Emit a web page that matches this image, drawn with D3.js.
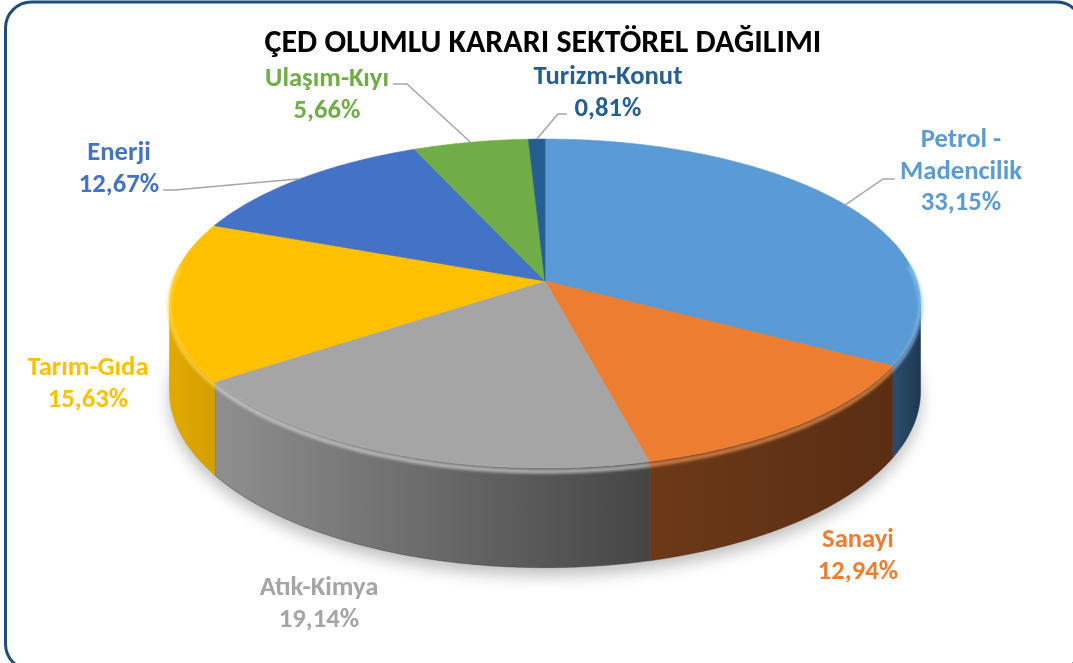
<!DOCTYPE html>
<html>
<head>
<meta charset="utf-8">
<script src="https://cdn.jsdelivr.net/npm/d3@7"></script>
<style>
  body { margin: 0; background: #fff; }
  text { font-family: Carlito, "Open Sans", sans-serif; font-weight: bold; }
</style>
</head>
<body>
<svg id="chart" width="1073" height="663"></svg>
<script>
// data (percent of positive EIA decisions per sector)
const title = "ÇED OLUMLU KARARI SEKTÖREL DAĞILIMI";
const sectors = ["Petrol - Madencilik", "Sanayi", "Atık-Kimya", "Tarım-Gıda", "Enerji", "Ulaşım-Kıyı", "Turizm-Konut"];
const shares = [33.15, 12.94, 19.14, 15.63, 12.67, 5.66, 0.81];

// styles
const topColors = ["#5b9bd5", "#ed7d31", "#a5a5a5", "#ffc000", "#4472c4", "#70ad47", "#255e91"];
const sideColors = [
  ["#2d4d6e", "#1e3853"], ["#6c3919", "#592e12"], ["#8f8f8f", "#454545"],
  ["#e2aa00", "#d39e00"], ["#2a4677", "#223a63"], ["#44692b", "#385823"], ["#173a5a", "#12304b"]
];
const rimColors = ["#8cc0ee", "#f59a5a", "#d2d2d2", "#ffd94a", "#6f95da", "#95cc6d", "#3f7fb8"];

// label layout: lines, centre x, first baseline, leader (start x, y, elbow dx)
const labelLayout = {
  "Petrol - Madencilik": { lines: ["Petrol -", "Madencilik"], x: 961, y: 147, leader: [895, 179, -12] },
  "Sanayi":       { lines: ["Sanayi"], x: 858, y: 547 },
  "Atık-Kimya":   { lines: ["Atık-Kimya"], x: 319, y: 595 },
  "Tarım-Gıda":   { lines: ["Tarım-Gıda"], x: 88, y: 375 },
  "Enerji":       { lines: ["Enerji"], x: 119, y: 160, leader: [163, 190, 12] },
  "Ulaşım-Kıyı":  { lines: ["Ulaşım-Kıyı"], x: 327, y: 86, leader: [393, 84, 14] },
  "Turizm-Konut": { lines: ["Turizm-Konut"], x: 608, y: 84, leader: [567, 114, -9] }
};
const lineGap = 31.5;

let svg = d3.select("#chart");

// 3d projection of the pie (perspective tilt)
const cx = 545, cy = 281, R = 372, K = 161.4, D = 7.3, depth = 86;
function proj(theta, drop) {
  let X = Math.sin(theta), Z = Math.cos(theta);
  let s = D / (D + Z);
  return [cx + R * X * s, cy + (-K * Z + (drop || 0)) * s];
}
function arcPts(a0, a1, drop) {
  let n = Math.max(2, Math.ceil(Math.abs(a1 - a0) / 0.01));
  return d3.range(n + 1).map(i => proj(a0 + (a1 - a0) * i / n, drop));
}
// silhouette angles where the side wall turns away
const silR = Math.acos(-1 / D), silL = 2 * Math.PI - silR;

let pie = d3.pie().sort(null).startAngle(0).endAngle(2 * Math.PI);
let arcs = pie(shares);

let defs = svg.append("defs");
defs.append("filter").attr("id", "shadowBlur").attr("x", "-20%").attr("y", "-20%").attr("width", "140%").attr("height", "140%")
  .append("feGaussianBlur").attr("stdDeviation", 8);
defs.append("filter").attr("id", "rimBlur")
  .append("feGaussianBlur").attr("stdDeviation", 1.6);

arcs.forEach((a, i) => {
  let g = defs.append("linearGradient").attr("id", "side" + i).attr("x1", 0).attr("x2", 1).attr("y1", 0).attr("y2", 0);
  g.append("stop").attr("offset", 0).attr("stop-color", sideColors[i][0]);
  g.append("stop").attr("offset", 1).attr("stop-color", sideColors[i][1]);
});

// frame
svg.append("rect")
  .attr("x", 5.5).attr("y", 2).attr("width", 1077).attr("height", 668)
  .attr("rx", 26).attr("fill", "#fff")
  .attr("stroke", "#1f4e79").attr("stroke-width", 3);

let line = d3.line();

// soft shadow under the pie
svg.append("path")
  .attr("d", line(arcPts(0, 2 * Math.PI, depth)) + "Z")
  .attr("transform", "translate(0,8)")
  .attr("fill", "#000").attr("opacity", 0.25)
  .attr("filter", "url(#shadowBlur)");

// side walls (front half only)
let sides = svg.append("g");
arcs.forEach((a, i) => {
  let lo = Math.max(a.startAngle, silR), hi = Math.min(a.endAngle, silL);
  if (hi <= lo) return;
  let pts = arcPts(lo, hi, 0).concat(arcPts(hi, lo, depth));
  sides.append("path")
    .attr("d", line(pts) + "Z")
    .attr("fill", `url(#side${i})`)
    .attr("stroke", sideColors[i][1]).attr("stroke-width", 0.5);
});

// top faces
let tops = svg.append("g");
arcs.forEach((a, i) => {
  let pts = [[cx, cy]].concat(arcPts(a.startAngle, a.endAngle, 0));
  tops.append("path")
    .attr("d", line(pts) + "Z")
    .attr("fill", topColors[i])
    .attr("stroke", topColors[i]).attr("stroke-width", 0.6);
});

// bevel rim along the front edge
let rim = svg.append("g").attr("filter", "url(#rimBlur)");
arcs.forEach((a, i) => {
  let lo = Math.max(a.startAngle, silR - 0.25), hi = Math.min(a.endAngle, silL + 0.25);
  if (hi <= lo) return;
  rim.append("path")
    .attr("d", line(arcPts(lo, hi, 3)))
    .attr("fill", "none")
    .attr("stroke", rimColors[i]).attr("stroke-width", 4).attr("opacity", 0.75);
});

// font sizes calibrated from measured text widths
function fitSize(str, target) {
  let t = svg.append("text").attr("font-size", 100).text(str);
  let w = t.node().getComputedTextLength();
  t.remove();
  return 100 * target / w;
}
const titleSize = fitSize(title, 557);
const labelSize = fitSize("Madencilik", 122);

svg.append("text")
  .attr("x", 543).attr("y", 52)
  .attr("text-anchor", "middle")
  .attr("font-size", titleSize)
  .attr("fill", "#000")
  .text(title);

const locale = d3.formatLocale({ decimal: ",", thousands: ".", grouping: [3], currency: ["", ""] });
const pct = locale.format(".2f");

// leader lines
let leaders = svg.append("g");
arcs.forEach((a, i) => {
  let lay = labelLayout[sectors[i]];
  if (!lay.leader) return;
  let [sx, sy, dx] = lay.leader;
  let end = proj((a.startAngle + a.endAngle) / 2, 0);
  leaders.append("path")
    .attr("d", line([[sx, sy], [sx + dx, sy], end]))
    .attr("fill", "none")
    .attr("stroke", "#a6a6a6").attr("stroke-width", 1.5);
});

// labels
let labels = svg.append("g");
arcs.forEach((a, i) => {
  let lay = labelLayout[sectors[i]];
  let t = labels.append("text")
    .attr("text-anchor", "middle")
    .attr("font-size", labelSize)
    .attr("fill", topColors[i]);
  lay.lines.concat([pct(shares[i]) + "%"]).forEach((s, k) => {
    t.append("tspan").attr("x", lay.x).attr("y", lay.y + k * lineGap).text(s);
  });
});
</script>
</body>
</html>
